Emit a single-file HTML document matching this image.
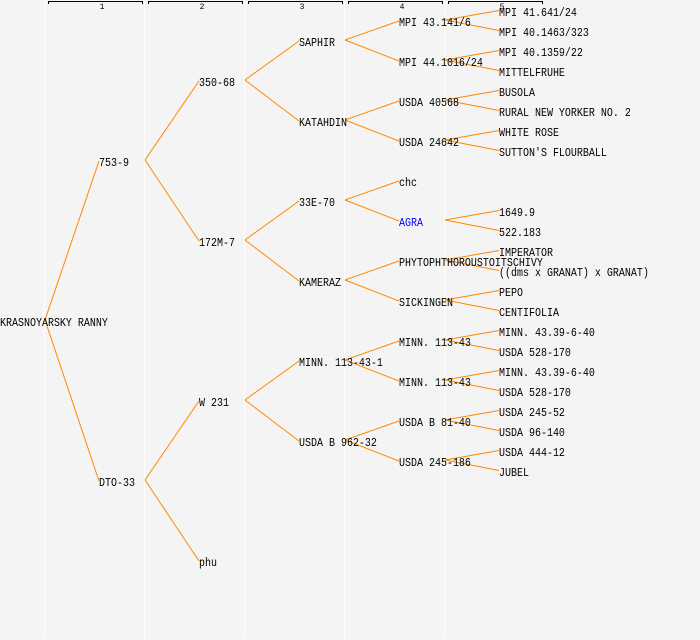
<!DOCTYPE html>
<html>
<head>
<meta charset="utf-8">
<style>
  html, body { margin: 0; padding: 0; background: #f4f4f4; }
  svg { display: block; }
  .t { font-family: "Liberation Mono", "DejaVu Sans Mono", monospace; font-size: 10px; fill: #000; }
  .h { font-family: "Liberation Mono", "DejaVu Sans Mono", monospace; font-size: 8px; fill: #000; }
</style>
</head>
<body>
<svg width="700" height="640" viewBox="0 0 700 640" xmlns="http://www.w3.org/2000/svg">
  <rect x="0" y="0" width="700" height="640" fill="#f4f4f4"/>
  <!-- column separators -->
  <g stroke="#ffffff" stroke-width="1" shape-rendering="crispEdges">
    <line x1="44.5" y1="0" x2="44.5" y2="638"/>
    <line x1="144.5" y1="0" x2="144.5" y2="638"/>
    <line x1="244.5" y1="0" x2="244.5" y2="638"/>
    <line x1="344.5" y1="0" x2="344.5" y2="638"/>
    <line x1="444.5" y1="0" x2="444.5" y2="638"/>
  </g>
  <!-- header brackets -->
  <g stroke="#000" stroke-width="1" fill="none" shape-rendering="crispEdges">
    <path d="M48.5,4 V1.5 H142.5 V4"/>
    <path d="M148.5,4 V1.5 H242.5 V4"/>
    <path d="M248.5,4 V1.5 H342.5 V4"/>
    <path d="M348.5,4 V1.5 H442.5 V4"/>
    <path d="M448.5,4 V1.5 H542.5 V4"/>
  </g>
  <g class="h" text-anchor="middle">
    <text x="102" y="9">1</text>
    <text x="202" y="9">2</text>
    <text x="302" y="9">3</text>
    <text x="402" y="9">4</text>
    <text x="502" y="9">5</text>
  </g>

  <!-- tree lines -->
  <g stroke="#ff8800" stroke-width="1" fill="none">
    <!-- gen0 -> gen1 -->
    <line x1="45" y1="320" x2="99" y2="161"/>
    <line x1="45" y1="320" x2="99" y2="481"/>
    <!-- gen1 -> gen2 -->
    <line x1="145" y1="160" x2="199" y2="81"/>
    <line x1="145" y1="160" x2="199" y2="241"/>
    <line x1="145" y1="480" x2="199" y2="401"/>
    <line x1="145" y1="480" x2="199" y2="561"/>
    <!-- gen2 -> gen3 -->
    <line x1="245" y1="80" x2="299" y2="41"/>
    <line x1="245" y1="80" x2="299" y2="121"/>
    <line x1="245" y1="240" x2="299" y2="201"/>
    <line x1="245" y1="240" x2="299" y2="281"/>
    <line x1="245" y1="400" x2="299" y2="361"/>
    <line x1="245" y1="400" x2="299" y2="441"/>
    <!-- gen3 -> gen4 -->
    <line x1="345" y1="40" x2="399" y2="21"/>
    <line x1="345" y1="40" x2="399" y2="61"/>
    <line x1="345" y1="120" x2="399" y2="101"/>
    <line x1="345" y1="120" x2="399" y2="141"/>
    <line x1="345" y1="200" x2="399" y2="181"/>
    <line x1="345" y1="200" x2="399" y2="221"/>
    <line x1="345" y1="280" x2="399" y2="261"/>
    <line x1="345" y1="280" x2="399" y2="301"/>
    <line x1="345" y1="360" x2="399" y2="341"/>
    <line x1="345" y1="360" x2="399" y2="381"/>
    <line x1="345" y1="440" x2="399" y2="421"/>
    <line x1="345" y1="440" x2="399" y2="461"/>
    <!-- gen4 -> gen5 -->
    <line x1="445" y1="20" x2="499" y2="10.5"/>
    <line x1="445" y1="20" x2="499" y2="30.5"/>
    <line x1="445" y1="60" x2="499" y2="50.5"/>
    <line x1="445" y1="60" x2="499" y2="70.5"/>
    <line x1="445" y1="100" x2="499" y2="90.5"/>
    <line x1="445" y1="100" x2="499" y2="110.5"/>
    <line x1="445" y1="140" x2="499" y2="130.5"/>
    <line x1="445" y1="140" x2="499" y2="150.5"/>
    <line x1="445" y1="220" x2="499" y2="210.5"/>
    <line x1="445" y1="220" x2="499" y2="230.5"/>
    <line x1="445" y1="260" x2="499" y2="250.5"/>
    <line x1="445" y1="260" x2="499" y2="270.5"/>
    <line x1="445" y1="300" x2="499" y2="290.5"/>
    <line x1="445" y1="300" x2="499" y2="310.5"/>
    <line x1="445" y1="340" x2="499" y2="330.5"/>
    <line x1="445" y1="340" x2="499" y2="350.5"/>
    <line x1="445" y1="380" x2="499" y2="370.5"/>
    <line x1="445" y1="380" x2="499" y2="390.5"/>
    <line x1="445" y1="420" x2="499" y2="410.5"/>
    <line x1="445" y1="420" x2="499" y2="430.5"/>
    <line x1="445" y1="460" x2="499" y2="450.5"/>
    <line x1="445" y1="460" x2="499" y2="470.5"/>
  </g>

  <!-- labels: baseline = y_c + 6, scaled vertically -->
  <g class="t">
    <!-- gen0 -->
    <text transform="translate(0,326) scale(1,1.2)">KRASNOYARSKY RANNY</text>
    <!-- gen1 -->
    <text transform="translate(99,166) scale(1,1.2)">753-9</text>
    <text transform="translate(99,486) scale(1,1.2)">DTO-33</text>
    <!-- gen2 -->
    <text transform="translate(199,86) scale(1,1.2)">350-68</text>
    <text transform="translate(199,246) scale(1,1.2)">172M-7</text>
    <text transform="translate(199,406) scale(1,1.2)">W 231</text>
    <text transform="translate(199,566) scale(1,1.2)">phu</text>
    <!-- gen3 -->
    <text transform="translate(299,46) scale(1,1.2)">SAPHIR</text>
    <text transform="translate(299,126) scale(1,1.2)">KATAHDIN</text>
    <text transform="translate(299,206) scale(1,1.2)">33E-70</text>
    <text transform="translate(299,286) scale(1,1.2)">KAMERAZ</text>
    <text transform="translate(299,366) scale(1,1.2)">MINN. 113-43-1</text>
    <text transform="translate(299,446) scale(1,1.2)">USDA B 962-32</text>
    <!-- gen4 -->
    <text transform="translate(399,26) scale(1,1.2)">MPI 43.141/6</text>
    <text transform="translate(399,66) scale(1,1.2)">MPI 44.1016/24</text>
    <text transform="translate(399,106) scale(1,1.2)">USDA 40568</text>
    <text transform="translate(399,146) scale(1,1.2)">USDA 24642</text>
    <text transform="translate(399,186) scale(1,1.2)">chc</text>
    <text transform="translate(399,226) scale(1,1.2)" style="fill:#0000ff">AGRA</text>
    <text transform="translate(399,266) scale(1,1.2)">PHYTOPHTHOROUSTOITSCHIVY</text>
    <text transform="translate(399,306) scale(1,1.2)">SICKINGEN</text>
    <text transform="translate(399,346) scale(1,1.2)">MINN. 113-43</text>
    <text transform="translate(399,386) scale(1,1.2)">MINN. 113-43</text>
    <text transform="translate(399,426) scale(1,1.2)">USDA B 81-40</text>
    <text transform="translate(399,466) scale(1,1.2)">USDA 245-186</text>
    <!-- gen5 -->
    <text transform="translate(499,16) scale(1,1.2)">MPI 41.641/24</text>
    <text transform="translate(499,36) scale(1,1.2)">MPI 40.1463/323</text>
    <text transform="translate(499,56) scale(1,1.2)">MPI 40.1359/22</text>
    <text transform="translate(499,76) scale(1,1.2)">MITTELFRUHE</text>
    <text transform="translate(499,96) scale(1,1.2)">BUSOLA</text>
    <text transform="translate(499,116) scale(1,1.2)">RURAL NEW YORKER NO. 2</text>
    <text transform="translate(499,136) scale(1,1.2)">WHITE ROSE</text>
    <text transform="translate(499,156) scale(1,1.2)">SUTTON'S FLOURBALL</text>
    <text transform="translate(499,216) scale(1,1.2)">1649.9</text>
    <text transform="translate(499,236) scale(1,1.2)">522.183</text>
    <text transform="translate(499,256) scale(1,1.2)">IMPERATOR</text>
    <text transform="translate(499,276) scale(1,1.2)">((dms x GRANAT) x GRANAT)</text>
    <text transform="translate(499,296) scale(1,1.2)">PEPO</text>
    <text transform="translate(499,316) scale(1,1.2)">CENTIFOLIA</text>
    <text transform="translate(499,336) scale(1,1.2)">MINN. 43.39-6-40</text>
    <text transform="translate(499,356) scale(1,1.2)">USDA 528-170</text>
    <text transform="translate(499,376) scale(1,1.2)">MINN. 43.39-6-40</text>
    <text transform="translate(499,396) scale(1,1.2)">USDA 528-170</text>
    <text transform="translate(499,416) scale(1,1.2)">USDA 245-52</text>
    <text transform="translate(499,436) scale(1,1.2)">USDA 96-140</text>
    <text transform="translate(499,456) scale(1,1.2)">USDA 444-12</text>
    <text transform="translate(499,476) scale(1,1.2)">JUBEL</text>
  </g>
</svg>
</body>
</html>
